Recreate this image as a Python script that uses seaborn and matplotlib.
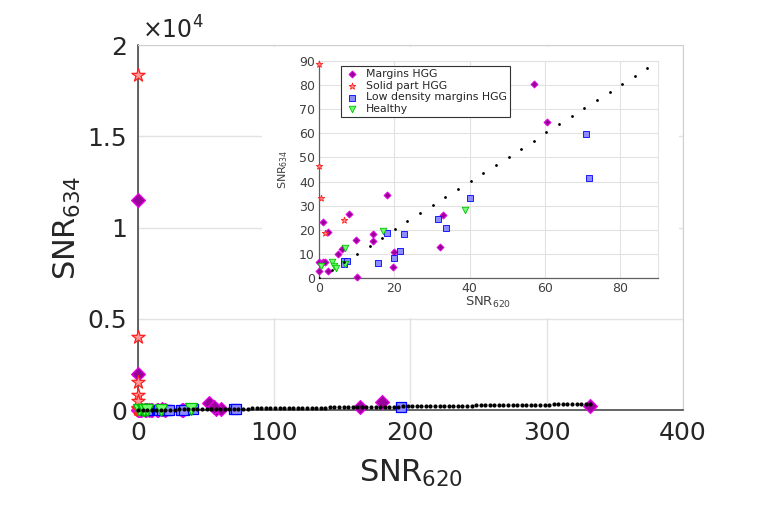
import numpy as np
import pandas as pd
import matplotlib
matplotlib.use('Agg')
import matplotlib.pyplot as plt
import seaborn as sns
from matplotlib.patches import Rectangle

# values (SNR620, SNR634)
margins_x = [57.2, 60.6, 0, 0, 1.1, 1.0, 1.6, 2.3, 2.3, 5.1, 6.1, 7.9, 9.9, 10.2,
             14.3, 14.4, 18.0, 19.8, 19.6, 32.0, 32.9, 0, 0, 52, 55.5, 163, 179, 332]
margins_y = [80.5, 64.6, 3.0, 6.6, 23.4, 6.7, 6.8, 19.1, 2.9, 10.1, 12.2, 26.7, 15.6, 0.3,
             18.1, 15.2, 34.3, 10.9, 4.6, 13.0, 26.3, 11500, 2000, 370, 190, 160, 420, 200]
solid_x = [0, 0, 0.4, 1.6, 6.6, 0, 0, 0, 0, 0.3]
solid_y = [88.6, 46.6, 33.3, 18.8, 24.1, 18350, 4000, 1550, 800, 520]
low_x = [6.6, 7.4, 6.6, 15.7, 18.0, 20.0, 21.4, 22.5, 31.6, 33.8, 40.1, 70.8, 71.7, 193]
low_y = [7.2, 7.2, 5.9, 6.4, 18.8, 8.3, 11.2, 18.4, 24.6, 20.7, 33.2, 59.9, 41.6, 190]
healthy_x = [0.4, 3.4, 4.0, 4.6, 6.8, 6.8, 16.9, 38.7]
healthy_y = [4.8, 6.5, 5.1, 4.1, 12.6, 5.7, 19.5, 28.3]

groups = ['Margins HGG', 'Solid part HGG', 'Low density margins HGG', 'Healthy']
frames = []
for name, xs, ys in zip(groups, [margins_x, solid_x, low_x, healthy_x],
                        [margins_y, solid_y, low_y, healthy_y]):
    frames.append(pd.DataFrame({'x': xs, 'y': ys, 'group': name}))
df = pd.concat(frames, ignore_index=True)

styles = {
    'Margins HGG': dict(marker='D', color='#9a009a', edgecolor='#ee00ee'),
    'Solid part HGG': dict(marker='*', color='#ff9a9a', edgecolor='#ff2020'),
    'Low density margins HGG': dict(marker='s', color='#8c8cff', edgecolor='#0000ff'),
    'Healthy': dict(marker='v', color='#70ff70', edgecolor='#00c000'),
}
main_s = {'D': 50, '*': 100, 's': 60, 'v': 75}
inset_s = {'D': 13, '*': 24, 's': 16, 'v': 22}

# identity (y = x) guide
ref = np.linspace(0, max(margins_x), 100)

sns.set_style('white')
plt.rcParams['font.family'] = ['DejaVu Sans']
plt.rcParams['mathtext.fontset'] = 'dejavusans'
txt = '#262626'
grid = '#e2e2e2'

fig = plt.figure(figsize=(7.76, 5.07), dpi=100)
ax = fig.add_axes([0.1778, 0.1913, 0.7023, 0.7199])
ax.set_zorder(0)

for g in groups:
    st = styles[g]
    sns.scatterplot(data=df[df.group == g], x='x', y='y', ax=ax, marker=st['marker'],
                    color=st['color'], edgecolor=st['edgecolor'], linewidth=0.9,
                    s=main_s[st['marker']], clip_on=False, zorder=3, legend=False)
ax.plot(ref, ref, ls='none', marker='.', color='k', ms=4, clip_on=False, zorder=4)

ax.set_xlim(0, 400)
ax.set_ylim(0, 20000)
ax.set_xticks([0, 100, 200, 300, 400])
ax.set_yticks([0, 5000, 10000, 15000, 20000])
ax.set_yticklabels(['0', '0.5', '1', '1.5', '2'])
ax.tick_params(direction='in', length=5, labelsize=18, colors=txt, pad=8)
ax.grid(True, color=grid, lw=1)
for side in ['left', 'bottom']:
    ax.spines[side].set_color('#3a3a3a')
    ax.spines[side].set_linewidth(1.1)
for side in ['top', 'right']:
    ax.spines[side].set_color('#d0d0d0')
ax.set_xlabel(r'SNR$_{620}$', fontsize=22, color=txt)
ax.set_ylabel(r'SNR$_{634}$', fontsize=22, color=txt)
ax.xaxis.set_label_coords(0.5, -0.13)
ax.yaxis.set_label_coords(-0.1, 0.5)
fig.text(142 / 776, 1 - 39 / 507, r'$\times10^{4}$', fontsize=17, color=txt, va='baseline')

# white background behind the inset
fig.add_artist(Rectangle((0.3376, 0.3728), 0.5374, 0.5345, transform=fig.transFigure,
                         facecolor='white', edgecolor='none', zorder=1))

ins = fig.add_axes([0.4111, 0.4517, 0.4369, 0.4280])
ins.set_zorder(2)
sub = df[(df.x <= 90) & (df.y <= 90)]
for g in groups:
    st = styles[g]
    sns.scatterplot(data=sub[sub.group == g], x='x', y='y', ax=ins, marker=st['marker'],
                    color=st['color'], edgecolor=st['edgecolor'], linewidth=0.6,
                    s=inset_s[st['marker']], clip_on=False, zorder=3, label=g)
rin = ref[ref <= 90]
ins.plot(rin, rin, ls='none', marker='.', color='k', ms=2, zorder=4)
ins.set_xlim(0, 90)
ins.set_ylim(0, 90)
ins.set_xticks([0, 20, 40, 60, 80])
ins.set_yticks(np.arange(0, 91, 10))
ins.tick_params(direction='in', length=3, labelsize=9, colors='#404040', pad=3)
ins.grid(True, color=grid, lw=0.8)
for side in ['left', 'bottom']:
    ins.spines[side].set_color('#606060')
    ins.spines[side].set_linewidth(0.9)
for side in ['top', 'right']:
    ins.spines[side].set_color('#e2e2e2')
ins.set_xlabel(r'SNR$_{620}$', fontsize=9.5, color='#404040')
ins.set_ylabel(r'SNR$_{634}$', fontsize=8, color='#404040')
ins.xaxis.set_label_coords(0.5, -0.08)
ins.yaxis.set_label_coords(-0.085, 0.5)
leg = ins.legend(loc='upper left', bbox_to_anchor=(0.065, 0.977), borderaxespad=0,
                 fontsize=7.8, frameon=True, fancybox=False, framealpha=1,
                 handletextpad=0.6, handlelength=1.4, borderpad=0.3, labelspacing=0.15)
leg.get_frame().set_edgecolor('#333333')
leg.get_frame().set_linewidth(0.8)
for t in leg.get_texts():
    t.set_color(txt)

fig.savefig('out.png', dpi=100)
